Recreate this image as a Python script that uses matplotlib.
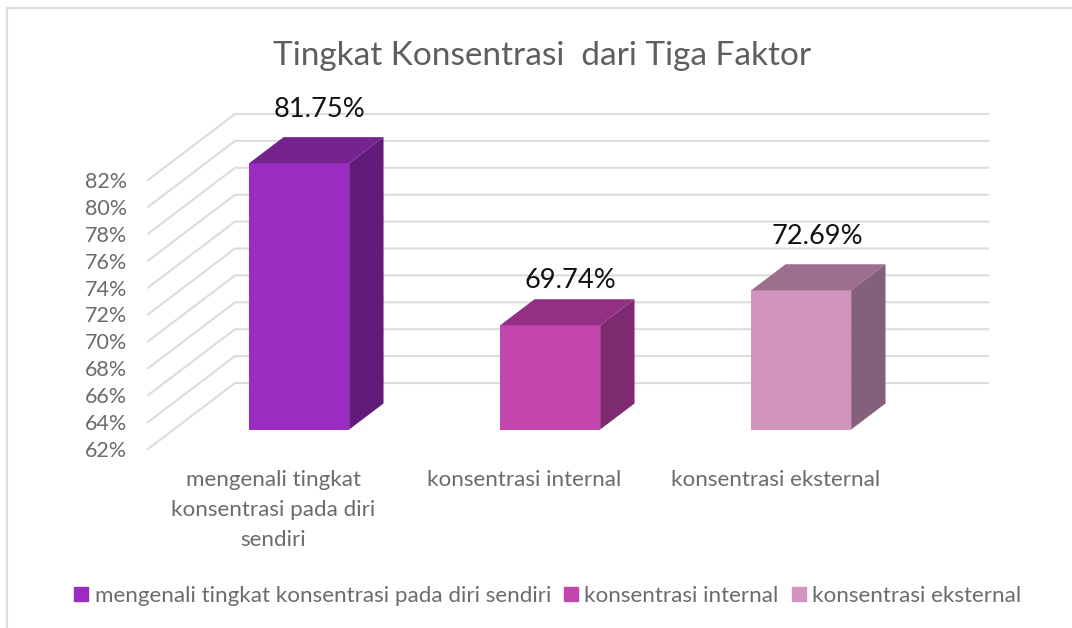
import matplotlib
matplotlib.use('Agg')
from matplotlib import pyplot as plt
from matplotlib.patches import Patch, Rectangle

plt.rcParams['font.family'] = ['Lato', 'DejaVu Sans']

# nilai
kategori = ['mengenali tingkat\nkonsentrasi pada diri\nsendiri', 'konsentrasi internal', 'konsentrasi eksternal']
legend_nama = ['mengenali tingkat konsentrasi pada diri sendiri', 'konsentrasi internal', 'konsentrasi eksternal']
tinggi_bar = [81.8, 69.75, 72.35]
label_bar = ['81.75%', '69.74%', '72.69%']
y_ticks = [62, 64, 66, 68, 70, 72, 74, 76, 78, 80, 82]

warna_depan = ['#9b2cc1', '#c345ae', '#d094bf']
warna_atas = ['#75238f', '#932f84', '#9e6f8d']
warna_samping = ['#611b79', '#7e2a70', '#85607b']

W, H = 1072, 628
TEKS = '#6b6b6b'
GRID = '#dcdcdc'

fig = plt.figure(figsize=(W / 100, H / 100), dpi=100)
fig.patches.append(Rectangle((7 / W, -0.01), 1.1, 1 - 8 / H + 0.01, transform=fig.transFigure,
                             fill=False, ec='#dddddd', lw=1.6))

# bidang depan: 62% di y=449 px, 82% di y=180 px
ax = fig.add_axes([148 / W, 1 - 449 / H, 753 / W, 269 / H])
ax.set_xlim(-0.5, 2.5)
ax.set_ylim(62, 82)
for s in ax.spines.values():
    s.set_visible(False)

# kedalaman 3D dalam satuan data
dx = 87 / 251
dy = 66 / 13.45
lebar = 100 / 251
d1, d2 = 0.295, 0.69
# geser label dari bar, px
naik_label = [15, 6, 15]
geser_label = [3, 3, -1]

for t in y_ticks:
    ax.plot([-0.5, -0.5 + dx, 2.5 + dx], [t, t + dy, t + dy], color=GRID, lw=1.5, clip_on=False, zorder=1)

for i, h in enumerate(tinggi_bar):
    kiri = i - lebar / 2 + d1 * dx
    kanan = kiri + lebar
    bawah = 62 + d1 * dy
    atas = h + d1 * dy
    sx = (d2 - d1) * dx
    sy = (d2 - d1) * dy
    ax.bar(kiri + lebar / 2, h - 62, lebar, bottom=bawah, color=warna_depan[i], zorder=3, clip_on=False)
    ax.fill([kiri, kanan, kanan + sx, kiri + sx], [atas, atas, atas + sy, atas + sy],
            color=warna_atas[i], lw=0, zorder=3, clip_on=False)
    ax.fill([kanan, kanan + sx, kanan + sx, kanan], [bawah, bawah + sy, atas + sy, atas],
            color=warna_samping[i], lw=0, zorder=3, clip_on=False)
    ax.annotate(label_bar[i], (kiri + (lebar + sx) / 2, atas + sy), xytext=(geser_label[i], naik_label[i]),
                textcoords='offset pixels', ha='center', va='bottom', fontsize=19.6, color='#111111',
                zorder=4, annotation_clip=False)

ax.set_yticks(y_ticks)
ax.set_yticklabels([f'{t}%' for t in y_ticks], fontsize=15.5, color=TEKS)
ax.set_xticks(range(len(kategori)))
ax.set_xticklabels(kategori, fontsize=16.1, color=TEKS, linespacing=1.63)
ax.tick_params(axis='y', length=0, pad=15)
ax.tick_params(axis='x', length=0, pad=15)

fig.text(542 / W, 1 - 56 / H, 'Tingkat Konsentrasi  dari Tiga Faktor', ha='center', va='center',
         fontsize=24, color='#5e5e5e')

handles = [Patch(color=c) for c in warna_depan]
fig.legend(handles, legend_nama, loc='center', bbox_to_anchor=(548 / W, 1 - 596 / H), ncol=3, frameon=False,
           fontsize=16.1, labelcolor=TEKS, handlelength=0.62, handleheight=0.62, handletextpad=0.28,
           columnspacing=0.6)

fig.savefig('out.png', dpi=100)
